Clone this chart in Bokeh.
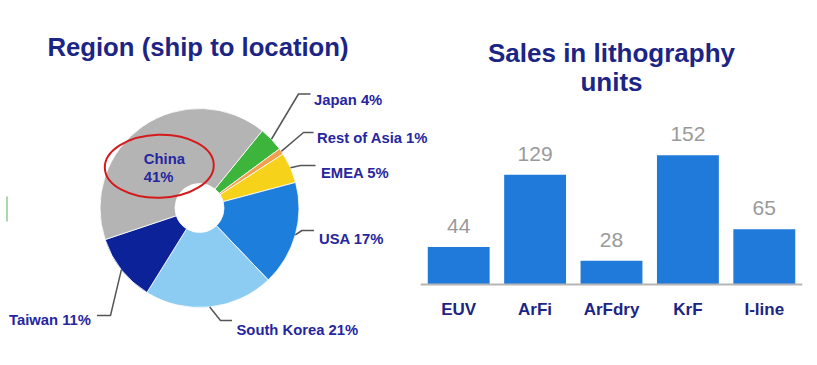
import math
import numpy as np
from bokeh.plotting import figure
from bokeh.models import Range1d, FactorRange, ColumnDataSource
from bokeh.layouts import row
from bokeh.core.properties import value
from bokeh.embed import file_html
from bokeh.resources import INLINE

# ---------------- data ----------------
regions = ["Japan", "Rest of Asia", "EMEA", "USA", "South Korea", "Taiwan", "China"]
region_share = [4, 1, 5, 17, 21, 11, 41]
region_colors = ["#3db53d", "#f2a04e", "#f7d21a", "#1e7edb", "#8ccbf2", "#0c2299", "#b4b4b4"]

litho_types = ["EUV", "ArFi", "ArFdry", "KrF", "I-line"]
litho_units = [44, 129, 28, 152, 65]

FONT = value("Liberation Sans")
NAVY = "#1c2585"
LABEL_NAVY = "#2626a0"

H = 360

# ---------------- left: pie ----------------
W_L = 432
def fx(ref_x):  # page x -> left figure data x
    return ref_x
def fy(ref_y):  # page y -> left figure data y
    return H - ref_y

pl = figure(width=W_L, height=H, output_backend="svg", toolbar_location=None,
            x_range=Range1d(0, W_L), y_range=Range1d(0, H),
            x_axis_location=None, y_axis_location=None,
            min_border=0, min_border_left=0, min_border_right=0,
            min_border_top=0, min_border_bottom=0)
pl.grid.visible = False
pl.outline_line_color = None

cx, cy = fx(199), fy(207.5)
R_OUT, R_IN = 99.5, 24.5
START = 50.9  # degrees, first slice starts here and goes clockwise

shares = np.array(region_share, dtype=float)
frac = shares / shares.sum() * 360.0
cum_after = np.cumsum(frac)
cum_before = cum_after - frac
ang_lo = np.radians(START - cum_after)
ang_hi = np.radians(START - cum_before)
mid = (ang_lo + ang_hi) / 2

src = ColumnDataSource(dict(start=ang_lo, end=ang_hi, color=region_colors))
pl.annular_wedge(x=cx, y=cy, inner_radius=R_IN, outer_radius=R_OUT,
                 start_angle="start", end_angle="end", fill_color="color",
                 line_color="white", line_width=0.8, source=src)

# leader lines + labels (elbow point, end of horizontal, text anchor) in page pixels
label_layout = {
    "Japan":        ((298, 93.5), (310, 93.5), (313.5, 99.5), "left"),
    "Rest of Asia": ((303, 132), (313, 132), (316.5, 137.8), "left"),
    "EMEA":         ((300, 165), (315, 165), (320.5, 172.7), "left"),
    "USA":          ((301.5, 230), (313.5, 230), (318.5, 238.3), "left"),
    "South Korea":  ((220, 320), (231.5, 320), (236, 329.3), "left"),
    "Taiwan":       ((110, 315), (96.5, 315), (90.5, 319.3), "right"),
}
for i, name in enumerate(regions):
    if name not in label_layout:
        continue
    (ex, ey), (hx, hy), (tx, ty), align = label_layout[name]
    sx = cx + R_OUT * math.cos(mid[i])
    sy = cy + R_OUT * math.sin(mid[i])
    pl.line(x=[sx, fx(ex), fx(hx)], y=[sy, fy(ey), fy(hy)],
            line_color="#555555", line_width=1.5)
    pl.text(x=[fx(tx)], y=[fy(ty)], text=[f"{name} {region_share[i]}%"],
            text_font=FONT, text_font_style="bold", text_font_size="14.8px",
            text_color=LABEL_NAVY, text_align=align, text_baseline="alphabetic")

# China label inside slice
ci = regions.index("China")
pl.text(x=[fx(143.3), fx(143.3)], y=[fy(158.3), fy(176.7)],
        text=[regions[ci], f"{region_share[ci]}%"],
        text_font=FONT, text_font_style="bold", text_font_size="14.8px",
        text_color=LABEL_NAVY, text_align="left", text_baseline="alphabetic")

# red highlight ellipse
pl.ellipse(x=fx(158.8), y=fy(165.8), width=109, height=63, angle=0.03,
           fill_color=None, line_color="#d41a1a", line_width=2)

# small green artifact at left edge
pl.line(x=[fx(6.5), fx(6.5)], y=[fy(196), fy(221)], line_color="#4caf50",
        line_width=1.2, line_alpha=0.8)

# title
pl.text(x=[fx(197.5)], y=[fy(46.5)], text=["Region (ship to location)"],
        text_font=FONT, text_font_style="bold", text_font_size="25.7px",
        text_color=NAVY, text_align="center", text_baseline="alphabetic")

# ---------------- right: bars ----------------
W_R = 400
OVERLAP = 17          # right canvas slides under the end of the left one
BASE_REF = 284.0
PX_PER_UNIT = 0.85
def ry(ref_y):
    return (BASE_REF - ref_y) / PX_PER_UNIT

pr = figure(width=W_R, height=H, output_backend="svg", toolbar_location=None,
            x_range=FactorRange(factors=litho_types, range_padding=0),
            y_range=Range1d(ry(H), ry(0)), y_axis_location=None,
            min_border_left=5, min_border_right=13, min_border_top=0,
            min_border_bottom=0)
pr.grid.visible = False
pr.outline_line_color = None
pr.background_fill_color = None
pr.border_fill_color = None
pr.styles = {"margin-left": f"-{OVERLAP}px"}

bsrc = ColumnDataSource(dict(x=litho_types, top=litho_units,
                             lab=[str(v) for v in litho_units]))
pr.vbar(x="x", top="top", width=0.81, bottom=0, source=bsrc,
        fill_color="#1f7ad9", line_color=None)
pr.text(x="x", y="top", text="lab", source=bsrc, y_offset=-21,
        text_font=FONT, text_font_size="21px", text_color="#9a9a9a",
        text_align="center", text_baseline="alphabetic")

ax = pr.xaxis[0]
ax.fixed_location = 0
ax.axis_line_color = "#b5b5b5"
ax.axis_line_width = 2
ax.major_tick_line_color = None
ax.minor_tick_line_color = None
ax.major_tick_out = 0
ax.major_tick_in = 0
ax.major_label_standoff = 15
ax.major_label_text_font = "Liberation Sans"
ax.major_label_text_font_style = "bold"
ax.major_label_text_font_size = "17px"
ax.major_label_text_color = NAVY

pr.text(x=[2.5, 2.5], y=[ry(52.3), ry(81.7)],
        text=["Sales in lithography", "units"],
        text_font=FONT, text_font_style="bold", text_font_size="26px",
        text_color=NAVY, text_align="center", text_baseline="alphabetic")

layout = row(pl, pr)
open("out.html", "w").write(file_html(layout, INLINE))
